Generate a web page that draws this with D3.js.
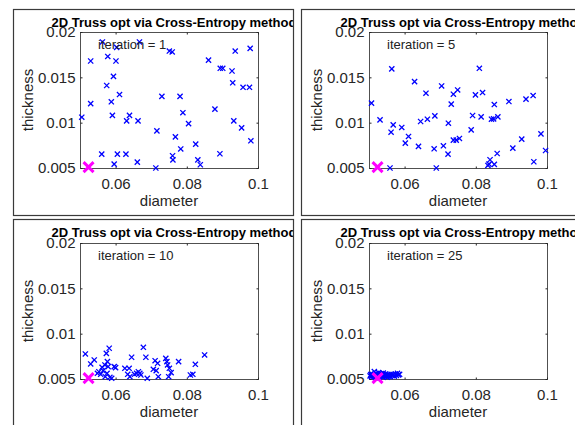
<!DOCTYPE html>
<html>
<head>
<meta charset="utf-8">
<script src="https://cdn.jsdelivr.net/npm/d3@7"></script>
<style>
body { margin: 0; background: #fff; }
text { font-family: "Liberation Sans", Arial, sans-serif; }
</style>
</head>
<body>
<svg id="fig" width="575" height="425"></svg>
<script>
// iteration numbers shown in the four subplots
var iterations = [1, 5, 10, 25];

// sampled population (diameter, thickness) per iteration
var it1_d = [0.0505,0.0530,0.0530,0.0561,0.0563,0.0575,0.0578,0.0588,0.0591,0.0594,0.0596,0.0601,0.0603,0.0605,0.0611,
  0.0629,0.0631,0.0639,0.0661,0.0663,0.0667,0.0713,0.0716,0.0730,0.0751,0.0759,0.0760,0.0761,0.0768,0.0781,0.0783,
  0.0789,0.0805,0.0825,0.0831,0.0838,0.0861,0.0879,0.0893,0.0894,0.0901,0.0927,0.0929,0.0932,0.0936,0.0954,0.0958,
  0.0976,0.0978,0.0980];
var it1_t = [0.0106,0.0168,0.0121,0.00653,0.0189,0.0141,0.0173,0.0123,0.0108,0.0151,0.00543,0.0168,0.0183,0.00653,0.0131,
  0.00653,0.0102,0.0108,0.00565,0.0102,0.0189,0.0050,0.0091,0.0129,0.0179,0.0178,0.00635,0.0059,0.00843,0.0129,0.0071,
  0.0111,0.0099,0.00763,0.0059,0.00536,0.0169,0.0115,0.00657,0.0160,0.0160,0.0157,0.0144,0.0102,0.0179,0.00942,0.0139,
  0.0139,0.0182,0.0080];

var it5_d = [0.0507,0.0531,0.0559,0.0562,0.0564,0.0568,0.0592,0.0602,0.0611,0.0628,0.0639,0.0645,0.0660,0.0664,0.0683,
  0.0685,0.0689,0.0704,0.0709,0.0722,0.0723,0.0731,0.0737,0.0737,0.0745,0.0749,0.0754,0.0787,0.0791,0.0799,0.0810,
  0.0815,0.0819,0.0834,0.0837,0.0840,0.0844,0.0850,0.0852,0.0852,0.0860,0.0862,0.0893,0.0904,0.0929,0.0941,0.0961,
  0.0963,0.0983,0.0996];
var it5_t = [0.01215,0.01031,0.0050,0.00895,0.01593,0.00976,0.00947,0.00774,0.00848,0.01453,0.00738,0.01013,0.01325,0.01038,0.00712,
  0.01075,0.0050,0.01405,0.00745,0.00653,0.00994,0.01204,0.01314,0.00807,0.00807,0.01361,0.00826,0.00921,0.01079,0.01306,0.01600,
  0.01064,0.01332,0.00528,0.00543,0.00591,0.01038,0.01042,0.0120,0.0054,0.0066,0.01064,0.01233,0.00719,0.00818,0.01259,0.01299,
  0.00569,0.00877,0.00693];

var it10_d = [0.0515,0.0530,0.0540,0.0549,0.0553,0.0558,0.0562,0.0565,0.0570,0.0571,0.0574,0.0576,0.0577,0.0579,0.0582,
  0.0584,0.0589,0.0596,0.0600,0.0626,0.0634,0.0638,0.0640,0.0645,0.0653,0.0659,0.0664,0.0668,0.0671,0.0678,0.0685,
  0.0689,0.0706,0.0711,0.0714,0.0718,0.0720,0.0741,0.0744,0.0746,0.0749,0.0751,0.0756,0.0777,0.0810,0.0817,0.0824,
  0.0850];
var it10_t = [0.00776,0.00666,0.0071,0.00563,0.0058,0.00552,0.00629,0.00592,0.00655,0.00525,0.00783,0.00563,0.00691,0.00636,0.00839,
  0.00519,0.00508,0.00636,0.00625,0.00618,0.00552,0.00618,0.00525,0.0074,0.00552,0.00563,0.0058,0.00563,0.00544,0.0085,0.0074,
  0.00508,0.00607,0.00702,0.00592,0.00673,0.00525,0.00728,0.00691,0.00655,0.00525,0.00618,0.0057,0.00691,0.00544,0.00552,0.00662,
  0.00765];

var it25_d = [0.0503,0.0505,0.0507,0.0509,0.0510,0.0512,0.0514,0.0515,0.0517,0.0519,0.0521,0.0523,0.0526,0.0528,0.0530,
  0.0532,0.0534,0.0536,0.0538,0.0540,0.0542,0.0544,0.0546,0.0548,0.0550,0.0553,0.0555,0.0557,0.0560,0.0562,0.0565,
  0.0568,0.0571,0.0574,0.0577,0.0580,0.0583,0.0586,0.0552,0.0540,0.0518,0.0527];
var it25_t = [0.00535,0.00548,0.00525,0.00552,0.00538,0.00545,0.00528,0.00582,0.00555,0.00531,0.00560,0.00540,0.00548,0.00527,0.00555,
  0.00536,0.00560,0.00530,0.00548,0.00520,0.00545,0.00535,0.00555,0.00528,0.00540,0.00550,0.00532,0.00545,0.00525,0.00552,0.00538,
  0.00548,0.00530,0.00555,0.00540,0.00562,0.00545,0.00552,0.00520,0.00565,0.00515,0.00570];

// best design found (magenta cross)
var best_d = [0.0524];
var best_t = [0.0051];

var xTicks = [0.06, 0.08, 0.1];
var yTicks = [0.005, 0.01, 0.015, 0.02];
var xDomain = [0.05, 0.1];
var yDomain = [0.005, 0.02];

var popD = [it1_d, it5_d, it10_d, it25_d];
var popT = [it1_t, it5_t, it10_t, it25_t];

// subplot frames, axes boxes
var panels = [
  {fx: 13,  fy: 9,   ax: 80,  ay: 32},
  {fx: 301, fy: 9,   ax: 369, ay: 32},
  {fx: 13,  fy: 219, ax: 80,  ay: 243},
  {fx: 301, fy: 219, ax: 369, ay: 243}
];
var axW = 178, axH = 136;
var axisColor = "#262626";

var svg = d3.select("#fig");
var defs = svg.append("defs");

function cross(g, cx, cy, r, color, w) {
  g.append("path")
    .attr("d", "M" + (cx - r) + "," + (cy - r) + "L" + (cx + r) + "," + (cy + r) +
               "M" + (cx - r) + "," + (cy + r) + "L" + (cx + r) + "," + (cy - r))
    .attr("stroke", color)
    .attr("stroke-width", w)
    .attr("fill", "none");
}

panels.forEach(function(p, i) {
  var x = d3.scaleLinear().domain(xDomain).range([p.ax, p.ax + axW]);
  var y = d3.scaleLinear().domain(yDomain).range([p.ay + axH, p.ay]);

  // panel frame
  svg.append("rect")
    .attr("x", p.fx + 0.5).attr("y", p.fy + 0.5)
    .attr("width", 280).attr("height", p.fy > 100 ? 220 : 206)
    .attr("fill", "none").attr("stroke", "#3a3a3a").attr("stroke-width", 1.2);

  defs.append("clipPath").attr("id", "clip" + i)
    .append("rect").attr("x", p.fx + 1).attr("y", p.fy).attr("width", 279).attr("height", 215);

  var g = svg.append("g").attr("clip-path", "url(#clip" + i + ")");

  // axes box
  g.append("rect")
    .attr("x", p.ax + 0.5).attr("y", p.ay + 0.5)
    .attr("width", axW).attr("height", axH)
    .attr("fill", "#fff").attr("stroke", axisColor).attr("stroke-width", 0.8);

  // ticks (inward, all four sides)
  var xb = g.append("g").attr("transform", "translate(0," + (p.ay + axH + 0.5) + ")")
    .call(d3.axisBottom(x).tickValues(xTicks).tickSizeInner(-2).tickSizeOuter(0).tickPadding(10)
      .tickFormat(d3.format("")));
  var xt = g.append("g").attr("transform", "translate(0," + (p.ay + 0.5) + ")")
    .call(d3.axisTop(x).tickValues(xTicks).tickSizeInner(-2).tickSizeOuter(0).tickFormat(""));
  var yl = g.append("g").attr("transform", "translate(" + (p.ax + 0.5) + ",0)")
    .call(d3.axisLeft(y).tickValues(yTicks).tickSizeInner(-2).tickSizeOuter(0).tickPadding(5)
      .tickFormat(d3.format("")));
  var yr = g.append("g").attr("transform", "translate(" + (p.ax + axW + 0.5) + ",0)")
    .call(d3.axisRight(y).tickValues(yTicks).tickSizeInner(-2).tickSizeOuter(0).tickFormat(""));
  [xb, xt, yl, yr].forEach(function(a) {
    a.select(".domain").remove();
    a.selectAll("line").attr("stroke", axisColor);
    a.selectAll("text").attr("fill", axisColor).style("font-size", "15px")
      .style("font-family", "'Liberation Sans', Arial, sans-serif");
  });
  xb.selectAll("text").attr("dy", "0.72em").attr("y", 10);

  // axis labels
  g.append("text")
    .attr("x", p.ax + axW / 2).attr("y", p.ay + axH + 38)
    .attr("text-anchor", "middle").attr("fill", axisColor)
    .style("font-size", "15px").text("diameter");
  g.append("text")
    .attr("transform", "translate(" + (p.ax - 47) + "," + (p.ay + axH / 2) + ") rotate(-90)")
    .attr("text-anchor", "middle").attr("fill", axisColor)
    .style("font-size", "15px").text("thickness");

  // population
  popD[i].forEach(function(d, k) {
    cross(g, x(d), y(popT[i][k]), 2.6, "#0000ff", 1.3);
  });

  // best point
  cross(g, x(best_d[0]), y(best_t[0]), 5, "#ff00ff", 3);

  // iteration annotation
  g.append("text")
    .attr("x", p.ax + 18).attr("y", p.ay + 17)
    .attr("fill", "#222").style("font-size", "13px")
    .text("iteration = " + iterations[i]);

  // title
  g.append("text")
    .attr("x", p.ax + axW / 2 + 5).attr("y", p.fy + 18)
    .attr("text-anchor", "middle").attr("fill", "#000")
    .style("font-size", "13px").style("font-weight", "bold")
    .text("2D Truss opt via Cross-Entropy method");
});
</script>
</body>
</html>
